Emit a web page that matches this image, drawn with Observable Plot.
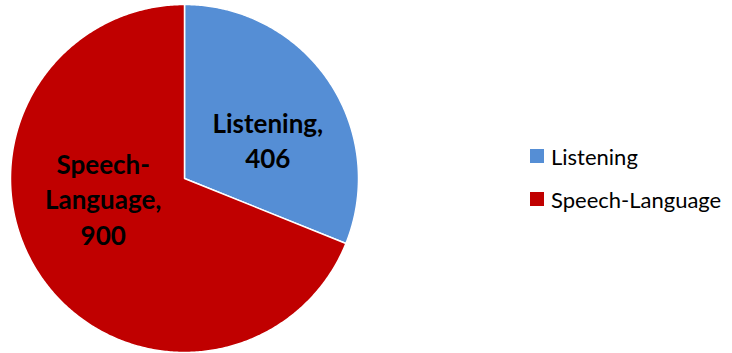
<!DOCTYPE html>
<html>
<head>
<meta charset="utf-8">
<script src="https://cdn.jsdelivr.net/npm/d3@7"></script>
<script src="https://cdn.jsdelivr.net/npm/@observablehq/plot@0.6"></script>
<style>
  html, body { margin: 0; padding: 0; background: #fff; }
  #wrap { position: relative; width: 732px; height: 353px; }
  #legend { position: absolute; left: 530px; top: 143px; font-family: Lato, "Open Sans", sans-serif; font-size: 22px; color: #000; }
  .item { display: flex; align-items: center; height: 26px; margin-bottom: 17px; }
  .sw { width: 14px; height: 14px; margin-right: 7px; }
</style>
</head>
<body>
<div id="wrap"></div>
<script>
const categories = ["Listening", "Speech-Language"];
const values = [406, 900];
const colors = ["#558ED5", "#C00000"];
const labelLines = [["Listening,", "406"], ["Speech-", "Language,", "900"]];

const pie = d3.pie().sort(null).value(d => d.value)(categories.map((c, i) => ({category: c, value: values[i]})));

// polygon points of each slice (angle measured clockwise from 12 o'clock)
const pts = [];
pie.forEach(p => {
  pts.push({category: p.data.category, x: 0, y: 0});
  const n = Math.max(2, Math.ceil((p.endAngle - p.startAngle) / 0.01));
  for (let k = 0; k <= n; k++) {
    const a = p.startAngle + (p.endAngle - p.startAngle) * k / n;
    pts.push({category: p.data.category, x: Math.sin(a), y: Math.cos(a)});
  }
  pts.push({category: p.data.category, x: 0, y: 0});
});

const offsets = [[4, 14], [-2, -34]];
const labels = pie.map((p, i) => {
  const a = (p.startAngle + p.endAngle) / 2;
  return {category: p.data.category, x: 0.55 * Math.sin(a), y: 0.55 * Math.cos(a), text: labelLines[i].join("\n"), dx: offsets[i][0], dy: offsets[i][1]};
});

const marks = [];
categories.forEach((c, i) => {
  marks.push(Plot.line(pts.filter(d => d.category === c), {x: "x", y: "y", fill: colors[i], stroke: "white", strokeWidth: 1.5, curve: "linear"}));
});
labels.forEach(l => {
  marks.push(Plot.text([l], {x: "x", y: "y", text: "text", dx: l.dx, dy: l.dy, fontSize: 26, fontWeight: "bold", lineHeight: 1.36, fill: "black"}));
});

const chart = Plot.plot({
  width: 732,
  height: 353,
  margin: 0,
  x: {domain: [-1, 1], range: [10, 358], axis: null},
  y: {domain: [-1, 1], range: [352, 4], axis: null},
  style: {fontFamily: "Lato, 'Open Sans', sans-serif", background: "white"},
  marks
});
const wrap = document.getElementById("wrap");
wrap.appendChild(chart);

const legend = document.createElement("div");
legend.id = "legend";
categories.forEach((c, i) => {
  const item = document.createElement("div");
  item.className = "item";
  const sw = document.createElement("div");
  sw.className = "sw";
  sw.style.background = colors[i];
  const t = document.createElement("span");
  t.textContent = c;
  item.appendChild(sw);
  item.appendChild(t);
  legend.appendChild(item);
});
wrap.appendChild(legend);
</script>
</body>
</html>
